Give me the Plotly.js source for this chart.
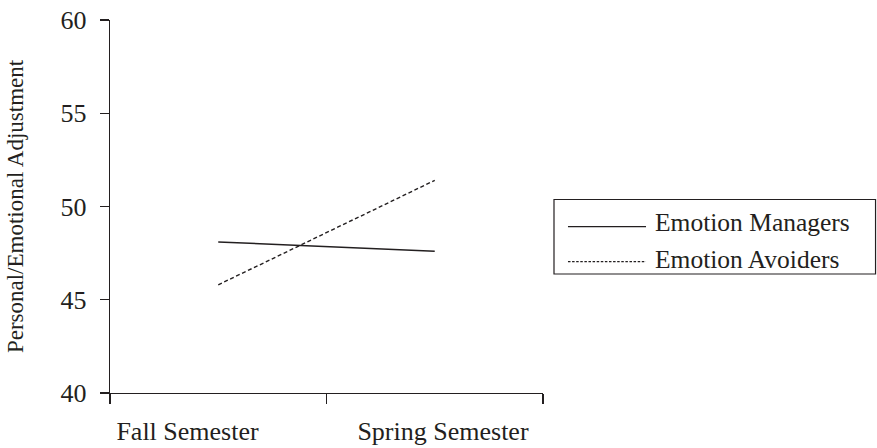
<!DOCTYPE html>
<html>
<head>
<meta charset="utf-8">
<script src="https://cdn.plot.ly/plotly-3.0.1.min.js"></script>
<style>
  html, body { margin: 0; padding: 0; background: #fff; }
  #chart { width: 877px; height: 448px; }
</style>
</head>
<body>
<div id="chart"></div>
<script>
// ---- data ----
const categories = ["Fall Semester", "Spring Semester"];
const seriesNames = ["Emotion Managers", "Emotion Avoiders"];
const managers = [48.1, 47.6];
const avoiders = [45.8, 51.4];
const yTickValues = [40, 45, 50, 55, 60];
const yTitle = "Personal/Emotional Adjustment";

// ---- styles ----
const FONT = "Liberation Serif, Times New Roman, serif";
const INK = "#231f20";
const dashes = ["solid", "4px,2.6px"];
const seriesValues = [managers, avoiders];
const xAxisIds = ["x", "x2"];

const traces = seriesValues.map((vals, i) => ({
  type: "scatter",
  mode: "lines",
  x: categories,
  y: vals,
  xaxis: xAxisIds[i],
  name: seriesNames[i],
  line: { color: INK, width: 1.4, dash: dashes[i] },
  showlegend: false,
  hoverinfo: "x+y+name"
}));

// custom legend box (paper coords relative to plot area)
const legendBox = { x0: 1.0254, x1: 1.768, y0: 0.319, y1: 0.5188 };
const legendRows = [0.4458, 0.352];
const legendTextY = [0.4584, 0.3592];
const shapes = [{
  type: "rect", xref: "paper", yref: "paper",
  x0: legendBox.x0, x1: legendBox.x1, y0: legendBox.y0, y1: legendBox.y1,
  line: { color: INK, width: 1.2 }, fillcolor: "rgba(0,0,0,0)"
}];
const annotations = [];
seriesNames.forEach((nm, i) => {
  shapes.push({
    type: "line", xref: "paper", yref: "paper",
    x0: 1.0577, x1: 1.2379, y0: legendRows[i], y1: legendRows[i],
    line: { color: INK, width: 1.2, dash: i === 0 ? "solid" : "2.5px,1.6px" }
  });
  annotations.push({
    xref: "paper", yref: "paper", x: 1.253, y: legendTextY[i],
    xanchor: "left", yanchor: "middle", showarrow: false,
    text: nm, font: { family: FONT, size: 25.5, color: INK }
  });
});

// label positions on the category axis (Fall label flush left, Spring label flush right)
const xLabelPositions = [-0.142, 1.038];

const layout = {
  width: 877, height: 448,
  margin: { l: 110, r: 334, t: 20, b: 55 },
  paper_bgcolor: "#fff", plot_bgcolor: "#fff",
  font: { family: FONT, color: INK },
  showlegend: false,
  xaxis: {
    type: "category",
    categoryorder: "array", categoryarray: categories,
    range: [-0.5, 1.5],
    tickson: "boundaries",
    ticks: "outside", ticklen: 10, tickwidth: 1.2, tickcolor: INK,
    showline: true, linecolor: INK, linewidth: 1.2,
    showgrid: false, zeroline: false,
    showticklabels: false,
    fixedrange: true
  },
  xaxis2: {
    type: "category",
    categoryorder: "array", categoryarray: categories,
    range: [-0.5, 1.5],
    overlaying: "x", anchor: "y", side: "bottom",
    tickmode: "array", tickvals: xLabelPositions, ticktext: categories,
    ticks: "", showline: false, showgrid: false, zeroline: false,
    tickfont: { family: FONT, size: 26, color: INK },
    ticklabelstandoff: 20,
    fixedrange: true
  },
  yaxis: {
    range: [40, 60],
    tickmode: "array", tickvals: yTickValues, ticktext: yTickValues.map(String),
    ticks: "outside", ticklen: 9, tickwidth: 1.2, tickcolor: INK,
    showline: true, linecolor: INK, linewidth: 1.2,
    showgrid: false, zeroline: false,
    tickfont: { family: FONT, size: 26, color: INK },
    ticklabelstandoff: 8,
    title: { text: yTitle, font: { family: FONT, size: 23, color: INK }, standoff: 30 },
    fixedrange: true
  },
  shapes: shapes,
  annotations: annotations
};

Plotly.newPlot("chart", traces, layout, { displayModeBar: false, staticPlot: true });
</script>
</body>
</html>
